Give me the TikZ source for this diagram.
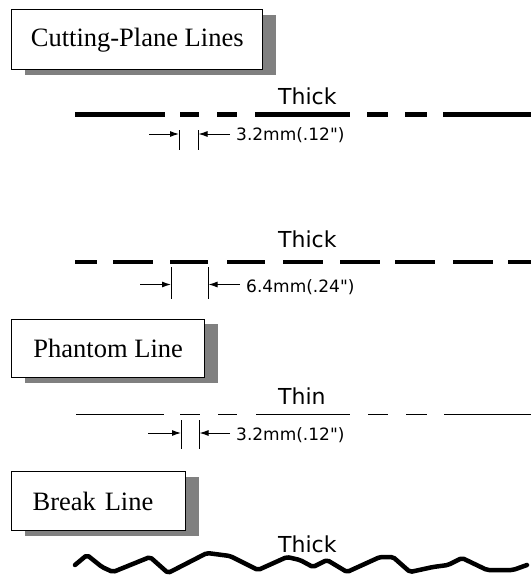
\documentclass[tikz,border=0pt]{standalone}
\usepackage{fontspec}
\setmainfont{Liberation Serif}
\newfontfamily\cadfont{DejaVu Sans}
\usetikzlibrary{arrows.meta,shadows}
\definecolor{shadowgray}{HTML}{808080}

\begin{document}
\begin{tikzpicture}[x=1pt,y=-1pt,
    titlebox/.style={draw,line width=1.4pt,fill=white,anchor=north west,
      font=\fontsize{26.5}{30}\selectfont,
      general shadow={fill=shadowgray,shadow xshift=13pt,shadow yshift=-5pt}},
    boldline/.style={line width=4.5pt},
    thinline/.style={line width=0.9pt},
    tickline/.style={line width=1pt},
    dimarrow/.style={line width=1pt,-{Latex[length=9pt,width=6pt]}},
    weightlabel/.style={anchor=base west,inner sep=0pt,font=\cadfont\fontsize{22}{24}\selectfont},
    dimlabel/.style={anchor=base west,inner sep=0pt,font=\cadfont\fontsize{17}{19}\selectfont}]
    \useasboundingbox (0,0) rectangle (531,583);

    % title boxes
    \node[titlebox,minimum width=251pt,minimum height=60pt] (cuttitle) at (11,9) {Cutting-Plane Lines};
    \node[titlebox,minimum width=193pt,minimum height=58.5pt] (phantomtitle) at (11,318.5) {Phantom Line};
    \node[titlebox,minimum height=59pt,inner xsep=21pt,text width=132pt,align=left] (breaktitle) at (11,471) {Break Line};

    % cutting-plane line, short dashes
    \node[weightlabel] (thickone) at (278,105) {Thick};
    \foreach \a/\b in {75/165,180/199,217/237,255/350,367/388,405/427,443/531}
      \draw[boldline] (\a,114.5) -- (\b,114.5);
    \coordinate (onetopa) at (179,130);
    \coordinate (onebota) at (179,150);
    \coordinate (onetopb) at (198.5,130);
    \coordinate (onebotb) at (198.5,150);
    \coordinate (onearra) at (149,134);
    \coordinate (onearrb) at (230,134);
    \draw[tickline] (onetopa) -- (onebota);
    \draw[tickline] (onetopb) -- (onebotb);
    \draw[dimarrow] (onearra) -- (onetopa |- onearra);
    \draw[dimarrow] (onearrb) -- (onetopb |- onearrb);
    \node[dimlabel] (onedim) at (236,140.5) {3.2mm(.12")};

    % cutting-plane line, long dashes
    \node[weightlabel] (thicktwo) at (278,247.5) {Thick};
    \foreach \a/\b in {75/97,113/153,170/208,227/265,283/323,340/380,395/435,453/493,508/531}
      \draw[boldline] (\a,262) -- (\b,262);
    \coordinate (twotopa) at (171,267);
    \coordinate (twobota) at (171,299);
    \coordinate (twotopb) at (208.5,267);
    \coordinate (twobotb) at (208.5,299);
    \coordinate (twoarra) at (140,284.5);
    \coordinate (twoarrb) at (240,284.5);
    \draw[tickline] (twotopa) -- (twobota);
    \draw[tickline] (twotopb) -- (twobotb);
    \draw[dimarrow] (twoarra) -- (twotopa |- twoarra);
    \draw[dimarrow] (twoarrb) -- (twotopb |- twoarrb);
    \node[dimlabel] (twodim) at (246,292) {6.4mm(.24")};

    % phantom line
    \node[weightlabel] (thinlabel) at (278,404) {Thin};
    \foreach \a/\b in {76/164,180/200,218/237,256/350,368/388,406/427,444/531}
      \draw[thinline] (\a,414.5) -- (\b,414.5);
    \coordinate (thrtopa) at (181,420);
    \coordinate (thrbota) at (181,449);
    \coordinate (thrtopb) at (199.5,420);
    \coordinate (thrbotb) at (199.5,449);
    \coordinate (thrarra) at (148,433);
    \coordinate (thrarrb) at (230,433);
    \draw[tickline] (thrtopa) -- (thrbota);
    \draw[tickline] (thrtopb) -- (thrbotb);
    \draw[dimarrow] (thrarra) -- (thrtopa |- thrarra);
    \draw[dimarrow] (thrarrb) -- (thrtopb |- thrarrb);
    \node[dimlabel] (thrdim) at (236,440) {3.2mm(.12")};

    % break line
    \node[weightlabel] (thickfour) at (278,552.5) {Thick};
    \draw[line width=4.5pt,line join=round,line cap=round,rounded corners=2pt]
      (75,565) -- (87,555) -- (102,567) -- (113,572) -- (150,557) -- (168,573) -- (207,553)
      -- (230,556) -- (258,570) -- (287,557) -- (300,560) -- (313,567) -- (327,560) -- (347,572)
      -- (380,557) -- (393,557) -- (410,572) -- (433,567) -- (448,565) -- (462,558) -- (487,570)
      -- (513,570) -- (527,565);
\end{tikzpicture}
\end{document}
